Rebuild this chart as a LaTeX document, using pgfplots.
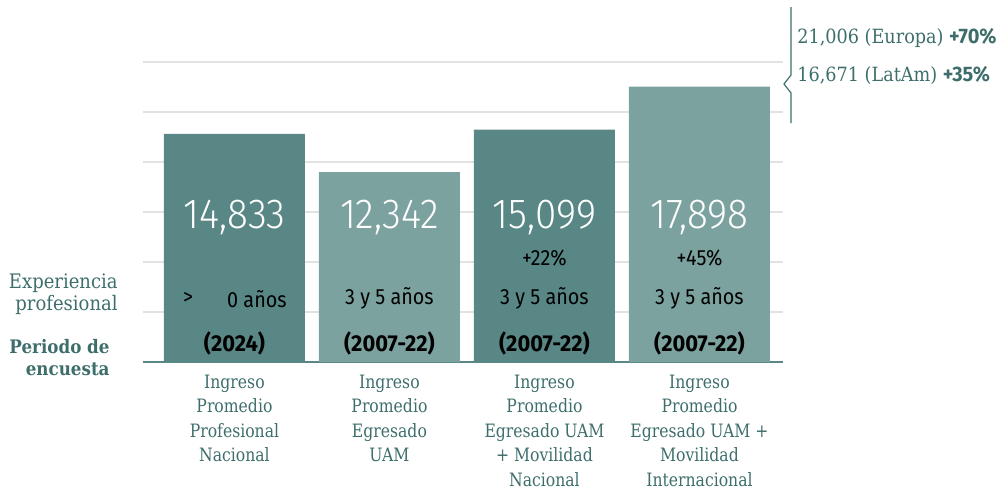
\documentclass[border=0pt]{standalone}
\usepackage{pgfplots}
\pgfplotsset{compat=1.18}
\usepackage{fontspec}
\setmainfont{DejaVu Serif}[FakeStretch=0.85]
\newfontfamily\slab{DejaVu Serif}[FakeStretch=0.85]
\newfontfamily\slabw{DejaVu Serif}[FakeStretch=0.9]
\newfontfamily\thin{Fira Sans Light}[FakeStretch=0.92]
\newfontfamily\fsans{Fira Sans}[FakeStretch=0.9]
\newfontfamily\fbold{Fira Sans}[FakeStretch=0.95]
\definecolor{bardark}{HTML}{588785}
\definecolor{barlight}{HTML}{7BA29F}
\definecolor{tealtxt}{HTML}{3D6E6B}
\definecolor{gridc}{HTML}{E2E2E2}
\def\u{0.5pt}
\tikzset{
  big/.style={text=white, font=\thin\fontsize{21}{23}\selectfont},
  mid/.style={font=\fsans\fontsize{11}{12}\selectfont},
  sm/.style={font=\fsans\fontsize{11}{12}\selectfont},
  bld/.style={font=\fbold\bfseries\fontsize{11.5}{12}\selectfont},
}
\begin{document}
\begin{tikzpicture}
\path[use as bounding box] (0,0) rectangle (999*\u,-493*\u);
\begin{axis}[
  at={(143*\u,-362*\u)}, anchor=south west,
  scale only axis, width=640*\u, height=300*\u,
  xmin=-0.590, xmax=3.539, ymin=0, ymax=19500,
  axis x line*=bottom, axis y line*=left,
  x axis line style={draw=bardark, line width=1.1pt, -},
  y axis line style={draw=none},
  ytick={3250,6500,9750,13000,16250,19500}, yticklabels={},
  scaled y ticks=false,
  ymajorgrids, grid style={draw=gridc, line width=1pt},
  major tick length=0pt,
  xtick={0,1,2,3},
  xticklabels={{Ingreso\\Promedio\\Profesional\\Nacional},
               {Ingreso\\Promedio\\Egresado\\UAM},
               {Ingreso\\Promedio\\Egresado UAM\\+ Movilidad\\Nacional},
               {Ingreso\\Promedio\\Egresado UAM +\\Movilidad\\Internacional}},
  xticklabel style={align=center, text=tealtxt, font=\slab\fontsize{9.2}{12.25}\selectfont, yshift=-3pt},
  ybar, bar width=141*\u, bar shift=0pt,
  clip=false,
]
\addplot[fill=bardark, draw=none] coordinates {(0,14833) (2,15099)};
\addplot[fill=barlight, draw=none] coordinates {(1,12342) (3,17898)};
% values inside the bars
\node[big] at (axis cs:0,9425) {14,833};
\node[big] at (axis cs:1,9425) {12,342};
\node[big] at (axis cs:2,9425) {15,099};
\node[big] at (axis cs:3,9425) {17,898};
\node[sm] at (axis cs:2,6760) {+22\%};
\node[sm] at (axis cs:3,6760) {+45\%};
\node[mid] at (axis cs:-0.30,4100) {>};
\node[mid] at (axis cs:0.145,4100) {0 años};
\node[mid] at (axis cs:1,4160) {3 y 5 años};
\node[mid] at (axis cs:2,4160) {3 y 5 años};
\node[mid] at (axis cs:3,4160) {3 y 5 años};
\node[bld] at (axis cs:0,1235) {(2024)};
\node[bld] at (axis cs:1,1235) {(2007-22)};
\node[bld] at (axis cs:2,1235) {(2007-22)};
\node[bld] at (axis cs:3,1235) {(2007-22)};
\end{axis}
% left row labels
\node[anchor=east, align=right, text=tealtxt, font=\slabw\fontsize{10}{11}\selectfont, inner sep=0pt] at (118*\u,-294*\u) {Experiencia\\profesional};
\node[anchor=east, align=right, text=tealtxt, font=\slabw\bfseries\fontsize{9.3}{11}\selectfont, inner sep=0pt] at (110*\u,-358*\u) {Periodo de\\encuesta};
% bracket and international note
\draw[tealtxt, line width=0.6pt] (791*\u,-7*\u) -- (791*\u,-75*\u) -- (784*\u,-84*\u) -- (791*\u,-93*\u) -- (791*\u,-123*\u);
\node[anchor=west, text=tealtxt, font=\slabw\fontsize{9.8}{11}\selectfont, inner sep=0pt] at (797*\u,-38*\u) {21,006 (Europa) {\fbold\bfseries\fontsize{10.5}{11}\selectfont+70\%}};
\node[anchor=west, text=tealtxt, font=\slabw\fontsize{9.8}{11}\selectfont, inner sep=0pt] at (797*\u,-75*\u) {16,671 (LatAm) {\fbold\bfseries\fontsize{10.5}{11}\selectfont+35\%}};
\end{tikzpicture}
\end{document}
